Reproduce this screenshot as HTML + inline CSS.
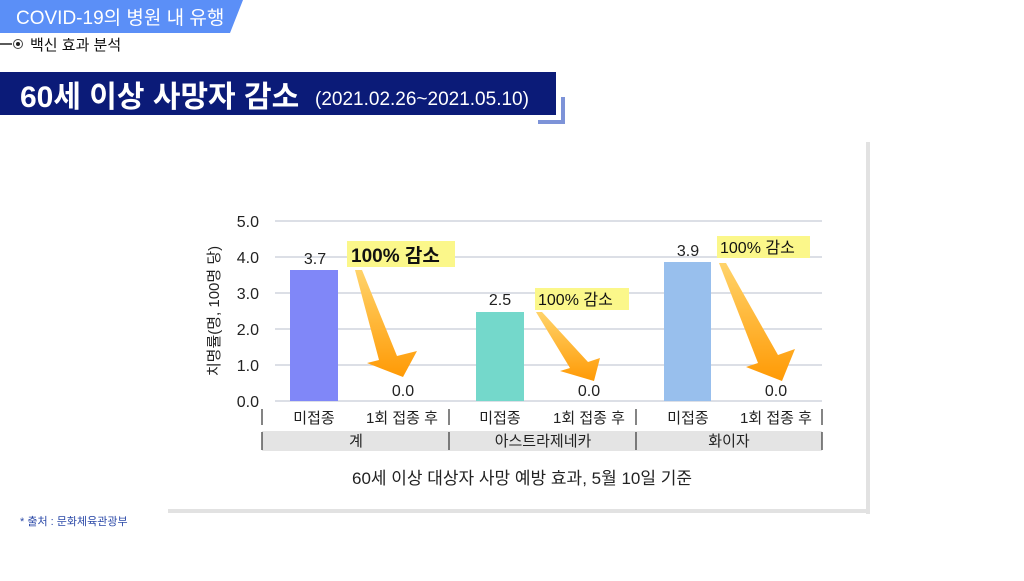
<!DOCTYPE html>
<html><head><meta charset="utf-8"><style>
body{margin:0;width:1024px;height:576px;background:#fff;overflow:hidden;font-family:"Liberation Sans","Noto Sans CJK KR",sans-serif;}
svg text{font-family:"Liberation Sans","Noto Sans CJK KR",sans-serif;}
</style></head><body>
<svg width="1024" height="576" viewBox="0 0 1024 576" xmlns="http://www.w3.org/2000/svg">
<defs>
<linearGradient id="ag" x1="0" y1="0" x2="0" y2="1">
<stop offset="0" stop-color="#ffd36a"/><stop offset="1" stop-color="#ff9a05"/>
</linearGradient>
</defs>
<polygon points="0,0 243,0 230,33 0,33" fill="#5b8ff7"/>
<text x="16" y="24" font-size="19" fill="#fff">COVID-19의 병원 내 유행</text>
<line x1="0" y1="44" x2="12" y2="44" stroke="#222" stroke-width="1.5"/>
<circle cx="18" cy="44" r="4.5" fill="#fff" stroke="#444" stroke-width="1"/>
<circle cx="18" cy="44" r="2" fill="#222"/>
<text x="30" y="50" font-size="15" fill="#111">백신 효과 분석</text>
<rect x="0" y="72" width="556" height="43" fill="#0b1b78"/>
<text x="20" y="107" font-size="30" font-weight="bold" fill="#fff">60세 이상 사망자 감소</text>
<text x="315" y="105" font-size="19" fill="#fff">(2021.02.26~2021.05.10)</text>
<polyline points="563,97 563,122 538,122" fill="none" stroke="#7d93d8" stroke-width="4"/>
<rect x="866" y="142" width="4" height="372" fill="#e2e2e2"/>
<rect x="168" y="509" width="702" height="4" fill="#e2e2e2"/>
<g stroke="#c8ccd6" stroke-width="1.2">
<line x1="275" y1="221" x2="822" y2="221"/><line x1="275" y1="257" x2="822" y2="257"/>
<line x1="275" y1="293" x2="822" y2="293"/><line x1="275" y1="329" x2="822" y2="329"/>
<line x1="275" y1="365" x2="822" y2="365"/><line x1="275" y1="401" x2="822" y2="401"/>
</g>
<g font-size="16" fill="#222" text-anchor="end">
<text x="259" y="227">5.0</text><text x="259" y="263">4.0</text><text x="259" y="299">3.0</text>
<text x="259" y="335">2.0</text><text x="259" y="371">1.0</text><text x="259" y="407">0.0</text>
</g>
<text transform="translate(219,311) rotate(-90)" font-size="15" fill="#222" text-anchor="middle">치명률(명, 100명 당)</text>
<rect x="290" y="270" width="48" height="131" fill="#8087f8"/>
<rect x="476" y="312" width="48" height="89" fill="#74d8cb"/>
<rect x="664" y="262" width="47" height="139" fill="#98bfed"/>
<g font-size="16" fill="#222" text-anchor="middle">
<text x="315" y="264">3.7</text><text x="500" y="305">2.5</text><text x="688" y="256">3.9</text>
<text x="403" y="396">0.0</text><text x="589" y="396">0.0</text><text x="776" y="396">0.0</text>
</g>
<rect x="347" y="241" width="108" height="26" fill="#fbf78a"/>
<text x="351" y="262" font-size="19" font-weight="bold" fill="#111">100% 감소</text>
<rect x="535" y="288" width="94" height="22" fill="#fbf78a"/>
<text x="538" y="305" font-size="16" fill="#111">100% 감소</text>
<rect x="717" y="236" width="93" height="22" fill="#fbf78a"/>
<text x="720" y="253" font-size="16" fill="#111">100% 감소</text>
<polygon points="355,270 362,270 397,356 417,351 403,377 367,363 379,360" fill="url(#ag)"/>
<polygon points="536,312 542,312 588,362 600,358 594,381 560,371 570,368" fill="url(#ag)"/>
<polygon points="719,263 726,263 778,355 795,349 782,381 746,367 758,363" fill="url(#ag)"/>
<rect x="262" y="431" width="560" height="20" fill="#e4e4e4"/>
<g stroke="#333" stroke-width="1.2">
<line x1="262" y1="409" x2="262" y2="425"/><line x1="449" y1="409" x2="449" y2="425"/>
<line x1="636" y1="409" x2="636" y2="425"/><line x1="822" y1="409" x2="822" y2="425"/>
<line x1="262" y1="432" x2="262" y2="450"/><line x1="449" y1="432" x2="449" y2="450"/>
<line x1="636" y1="432" x2="636" y2="450"/><line x1="822" y1="432" x2="822" y2="450"/>
</g>
<g font-size="15" fill="#222" text-anchor="middle">
<text x="314" y="423">미접종</text><text x="402" y="423">1회 접종 후</text>
<text x="500" y="423">미접종</text><text x="589" y="423">1회 접종 후</text>
<text x="688" y="423">미접종</text><text x="776" y="423">1회 접종 후</text>
<text x="356" y="446">계</text><text x="543" y="446">아스트라제네카</text><text x="729" y="446">화이자</text>
</g>
<text x="522" y="484" font-size="17" fill="#222" text-anchor="middle">60세 이상 대상자 사망 예방 효과, 5월 10일 기준</text>
<text x="20" y="525" font-size="11" fill="#2c4aa8">* 출처 : 문화체육관광부</text>
</svg>
</body></html>
